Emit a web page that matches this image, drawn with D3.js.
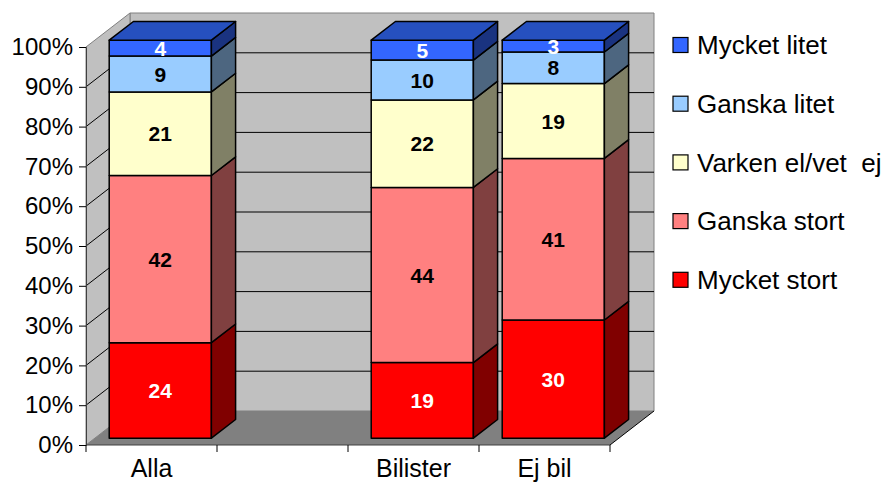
<!DOCTYPE html>
<html>
<head>
<meta charset="utf-8">
<script src="https://cdn.jsdelivr.net/npm/d3@7"></script>
<style>
  body { margin: 0; background: #fff; }
  text { font-family: "Liberation Sans", Arial, sans-serif; }
</style>
</head>
<body>
<svg id="chart" width="884" height="484"></svg>
<script>
// data
var categories = ["Alla", "", "Bilister", "Ej bil"];
var seriesNames = ["Mycket stort", "Ganska stort", "Varken el/vet  ej", "Ganska litet", "Mycket litet"];
var mycketStort = [24, null, 19, 30];
var ganskaStort = [42, null, 44, 41];
var varken = [21, null, 22, 19];
var ganskaLitet = [9, null, 10, 8];
var mycketLitet = [4, null, 5, 3];
var yTicks = [0, 0.1, 0.2, 0.3, 0.4, 0.5, 0.6, 0.7, 0.8, 0.9, 1];

var frontColors = ["#ff0000", "#ff8080", "#ffffcc", "#99ccff", "#3366ff"];
var sideColors  = ["#800000", "#804040", "#808066", "#4d6680", "#1a3380"];
var topColors   = ["#bf0000", "#bf6060", "#bfbf99", "#7399bf", "#2650bf"];
var labelColors = ["#fff", "#000", "#000", "#000", "#fff"];

var allSeries = [mycketStort, ganskaStort, varken, ganskaLitet, mycketLitet];

var svg = d3.select("#chart");

var DX = 44, DY = 34;          // depth of the 3d box
var zFront = 0.2, zBack = 0.75; // bar depth inside the box
function P(px, py, z) { return [px + z * DX, py - z * DY]; }
function poly(pts) { return pts.map(function(p) { return p.join(","); }).join(" "); }

var x = d3.scaleBand().domain(categories).range([86, 610]);
var y = d3.scaleLinear().domain([0, 1]).range([445, 47]);

var x0 = x.range()[0], x1 = x.range()[1];

// walls
svg.append("polygon")
	.attr("points", poly([P(x0, y(0), 1), P(x1, y(0), 1), P(x1, y(1), 1), P(x0, y(1), 1)]))
	.attr("fill", "#c0c0c0").attr("stroke", "#808080");
svg.append("polygon")
	.attr("points", poly([P(x0, y(0), 0), P(x0, y(0), 1), P(x0, y(1), 1), P(x0, y(1), 0)]))
	.attr("fill", "#c0c0c0").attr("stroke", "#808080");
svg.append("polygon")
	.attr("points", poly([P(x0, y(0), 0), P(x1, y(0), 0), P(x1, y(0), 1), P(x0, y(0), 1)]))
	.attr("fill", "#808080").attr("stroke", "none");
svg.append("line")
	.attr("x1", P(x1, y(0), 0)[0]).attr("y1", P(x1, y(0), 0)[1])
	.attr("x2", P(x1, y(0), 1)[0]).attr("y2", P(x1, y(0), 1)[1])
	.attr("stroke", "#000");

// gridlines
var grid = yTicks.filter(function(t) { return t > 0 && t < 1; });
svg.selectAll(".gback").data(grid).enter().append("line")
	.attr("x1", function(t) { return P(x0, y(t), 1)[0]; })
	.attr("y1", function(t) { return P(x0, y(t), 1)[1]; })
	.attr("x2", function(t) { return P(x1, y(t), 1)[0]; })
	.attr("y2", function(t) { return P(x1, y(t), 1)[1]; })
	.attr("stroke", "#000");
svg.selectAll(".gside").data(grid).enter().append("line")
	.attr("x1", function(t) { return P(x0, y(t), 0)[0]; })
	.attr("y1", function(t) { return P(x0, y(t), 0)[1]; })
	.attr("x2", function(t) { return P(x0, y(t), 1)[0]; })
	.attr("y2", function(t) { return P(x0, y(t), 1)[1]; })
	.attr("stroke", "#000");

// y axis
var yAxis = svg.append("g")
	.attr("transform", "translate(" + x0 + ",0)")
	.call(d3.axisLeft(y).tickValues(yTicks).tickFormat(d3.format(".0%")).tickSize(7).tickPadding(6));
yAxis.select(".domain").attr("stroke", "#404040");
yAxis.selectAll(".tick line").attr("stroke", "#000");
yAxis.selectAll("text").attr("font-size", 24).attr("fill", "#000")
	.attr("font-family", "Liberation Sans, Arial, sans-serif");

// x axis
svg.append("line").attr("x1", x0).attr("x2", x1).attr("y1", y(0)).attr("y2", y(0)).attr("stroke", "#404040");
var bounds = categories.map(function(c) { return x(c); }).concat([x1]);
svg.selectAll(".xtick").data(bounds).enter().append("line")
	.attr("x1", function(d) { return d; }).attr("x2", function(d) { return d; })
	.attr("y1", y(0)).attr("y2", y(0) + 7).attr("stroke", "#000");
svg.selectAll(".xlab").data(categories).enter().append("text")
	.attr("x", function(d) { return x(d) + x.bandwidth() / 2; })
	.attr("y", 477)
	.attr("text-anchor", "middle")
	.attr("font-size", 25)
	.text(function(d) { return d; });

// stacked 100% bars
var rows = categories.map(function(c, i) {
	var r = { cat: c };
	seriesNames.forEach(function(s, j) { r[s] = allSeries[j][i] || 0; });
	return r;
}).filter(function(r) { return r.cat !== ""; });

var stacked = d3.stack().keys(seriesNames).offset(d3.stackOffsetExpand)(rows);

var bw = x.bandwidth() * 0.78;
function bx(c) { return x(c) + (x.bandwidth() - bw) / 2; }

stacked.forEach(function(layer, j) {
	var g = svg.append("g");
	layer.forEach(function(d) {
		var c = d.data.cat, l = bx(c), r = l + bw;
		var yb = y(d[0]), yt = y(d[1]);
		g.append("polygon")
			.attr("points", poly([P(l, yb, zFront), P(r, yb, zFront), P(r, yt, zFront), P(l, yt, zFront)]))
			.attr("fill", frontColors[j]).attr("stroke", "#000").attr("stroke-width", 1.5).attr("stroke-linejoin", "round");
		g.append("polygon")
			.attr("points", poly([P(r, yb, zFront), P(r, yb, zBack), P(r, yt, zBack), P(r, yt, zFront)]))
			.attr("fill", sideColors[j]).attr("stroke", "#000").attr("stroke-width", 1.5).attr("stroke-linejoin", "round");
		if (j === stacked.length - 1) {
			g.append("polygon")
				.attr("points", poly([P(l, yt, zFront), P(r, yt, zFront), P(r, yt, zBack), P(l, yt, zBack)]))
				.attr("fill", topColors[j]).attr("stroke", "#000").attr("stroke-width", 1.5).attr("stroke-linejoin", "round");
		}
	});
});

// data labels
stacked.forEach(function(layer, j) {
	svg.selectAll(".lab" + j).data(layer).enter().append("text")
		.attr("x", function(d) { return P(bx(d.data.cat) + bw / 2, 0, zFront)[0]; })
		.attr("y", function(d) { return P(0, y((d[0] + d[1]) / 2), zFront)[1]; })
		.attr("dy", "0.36em")
		.attr("text-anchor", "middle")
		.attr("font-size", 21)
		.attr("font-weight", "bold")
		.attr("fill", labelColors[j])
		.text(function(d) { return d.data[seriesNames[j]]; });
});

// legend
var legendOrder = seriesNames.map(function(s, i) { return i; }).reverse();
var lg = svg.selectAll(".leg").data(legendOrder).enter().append("g")
	.attr("transform", function(d, i) { return "translate(673," + (45 + i * 58.7) + ")"; });
lg.append("rect").attr("x", 0).attr("y", -7.5).attr("width", 15).attr("height", 15)
	.attr("fill", function(d) { return frontColors[d]; }).attr("stroke", "#000").attr("stroke-width", 1.2);
lg.append("text").attr("x", 24).attr("dy", "0.36em")
	.attr("font-size", 26)
	.style("white-space", "pre")
	.text(function(d) { return seriesNames[d]; });
</script>
</body>
</html>
